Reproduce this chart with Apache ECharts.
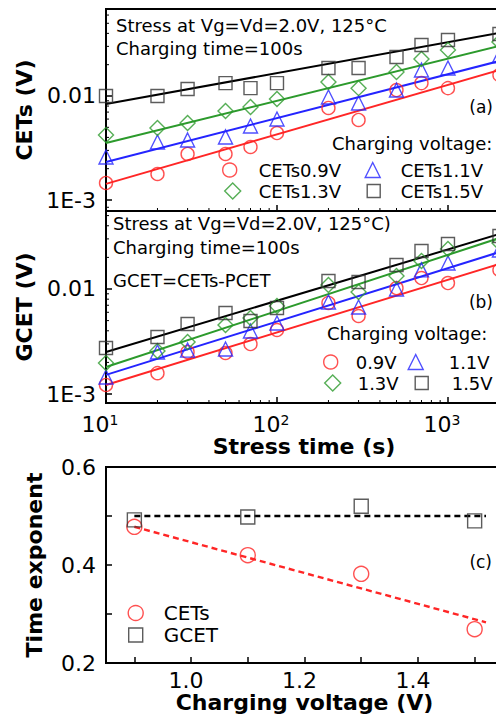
<!DOCTYPE html>
<html>
<head>
<meta charset="utf-8">
<script src="https://cdn.jsdelivr.net/npm/echarts@6/dist/echarts.min.js"></script>
<style>
html, body { margin: 0; padding: 0; background: #fff; }
#chart { width: 496px; height: 717px; }
</style>
</head>
<body>
<div id="chart"></div>
<script>
// stress time (s), shared by panels (a) and (b)
const stressTime = [10, 20, 30, 50, 70, 100, 200, 300, 500, 700, 1000, 2000];

// (a) CETs (V) per charging voltage
const cets09 = [0.00146, 0.00178, 0.00277, 0.00277, 0.00324, 0.0044, 0.00767, 0.00588, 0.0114, 0.0133, 0.0119, 0.0159];
const cets11 = [0.00259, 0.00361, 0.00378, 0.00404, 0.00515, 0.00601, 0.00978, 0.00857, 0.0114, 0.0178, 0.0186, 0.0243];
const cets13 = [0.00422, 0.00492, 0.0055, 0.00717, 0.00784, 0.00936, 0.01365, 0.0119, 0.017, 0.0227, 0.0277, 0.033];
const cets15 = [0.0100, 0.0100, 0.01167, 0.0133, 0.0119, 0.0133, 0.0186, 0.0186, 0.0237, 0.0309, 0.0345, 0.0395];

// (b) GCET (V)
const gcet09 = [0.00122, 0.00158, 0.00251, 0.00246, 0.00299, 0.00407, 0.00736, 0.00553, 0.0102, 0.0127, 0.0114, 0.0152];
const gcet11 = [0.00145, 0.00251, 0.00262, 0.00268, 0.00398, 0.00474, 0.00752, 0.00674, 0.0100, 0.0152, 0.0177, 0.0235];
const gcet13 = [0.00197, 0.00257, 0.00313, 0.00454, 0.0053, 0.0069, 0.0109, 0.00936, 0.0133, 0.0185, 0.024, 0.0274];
const gcet15 = [0.00274, 0.00349, 0.00464, 0.0059, 0.00495, 0.00659, 0.0119, 0.01166, 0.0169, 0.023, 0.0268, 0.032];

// power-law fit lines, end points at 10 s and 2000 s
const fitTime = [10, 2000];
const cetsFit09 = [0.00143, 0.0178];
const cetsFit11 = [0.00232, 0.0217];
const cetsFit13 = [0.00353, 0.0303];
const cetsFit15 = [0.00838, 0.0404];
const gcetFit09 = [0.00122, 0.0173];
const gcetFit11 = [0.00152, 0.0225];
const gcetFit13 = [0.00181, 0.0306];
const gcetFit15 = [0.00251, 0.0334];

// (c) time exponent vs charging voltage
const chargingVoltage = [0.9, 1.1, 1.3, 1.5];
const expCets = [0.478, 0.42, 0.382, 0.269];
const expGcet = [0.492, 0.498, 0.52, 0.49];
const fitVoltage = [0.9, 1.52];
const expCetsFit = [0.478, 0.283];
const expGcetFit = [0.5, 0.5];

// tick labels
const logTickValues = [0.001, 0.01];
const logTickLabels = ['1E-3', '0.01'];
const expTickLabels = [0.2, 0.4, 0.6];
const voltTickLabels = [1.0, 1.2, 1.4];
const minorTime = [20, 30, 40, 50, 60, 70, 80, 90, 200, 300, 400, 500, 600, 700, 800, 900, 2000];
const minorVolt = [0.002, 0.003, 0.004, 0.005, 0.006, 0.007, 0.008, 0.009, 0.02, 0.03, 0.04, 0.05, 0.06];

const FONT = 'DejaVu Sans';
const RED = '#ff2626', BLUE = '#2424ff', GREEN = '#2c9a2c', GREY = '#333333';

const pairs = (xs, ys) => xs.map((x, i) => [x, ys[i]]);

function scatter(name, xs, ys, symbol, size, color, gi) {
  return {
    type: 'scatter', name, xAxisIndex: gi, yAxisIndex: gi, data: pairs(xs, ys),
    symbol, symbolSize: size, z: 3,
    itemStyle: { color: 'transparent', borderColor: color, borderWidth: 1.4 }
  };
}
function fit(xs, ys, color, gi, dashed) {
  return {
    type: 'line', xAxisIndex: gi, yAxisIndex: gi, data: pairs(xs, ys), symbol: 'none', silent: true, z: 2,
    lineStyle: { color, width: dashed ? 2.4 : 2, type: dashed ? [6, 4] : 'solid' }
  };
}
// log minor ticks (2..9 x 10^n), drawn inward
function minorX(gi) {
  return {
    type: 'custom', xAxisIndex: gi, yAxisIndex: gi, silent: true, clip: false,
    data: minorTime.map((t) => [t, 0.005]),
    renderItem: (params, api) => {
      const cs = params.coordSys;
      const x = api.coord([api.value(0), 0.005])[0];
      const yb = cs.y + cs.height;
      return { type: 'line', shape: { x1: x, y1: yb, x2: x, y2: yb - 3 }, style: { stroke: '#000', lineWidth: 1 } };
    }
  };
}
function minorY(gi) {
  return {
    type: 'custom', xAxisIndex: gi, yAxisIndex: gi, silent: true, clip: false,
    data: minorVolt.map((v) => [100, v]),
    renderItem: (params, api) => {
      const cs = params.coordSys;
      const y = api.coord([100, api.value(1)])[1];
      return { type: 'line', shape: { x1: cs.x, y1: y, x2: cs.x + 3, y2: y }, style: { stroke: '#000', lineWidth: 1 } };
    }
  };
}

function logLabel(v) {
  const e = Math.log10(v), r = Math.round(e);
  if (Math.abs(e - r) > 1e-6) return '';
  const i = logTickValues.findIndex((t) => Math.round(Math.log10(t)) === r);
  return i >= 0 ? logTickLabels[i] : '';
}
function timeLabel(v) {
  const e = Math.log10(v), r = Math.round(e);
  if (Math.abs(e - r) > 1e-6) return '';
  return '{b|10}{s|' + r + '}';
}
const pick = (list) => (v) => list.some((t) => Math.abs(t - v) < 1e-6) ? v.toFixed(1) : '';

const axisLine = { lineStyle: { color: '#000', width: 2 } };
const tick = { inside: true, length: 6, lineStyle: { color: '#000', width: 1.5 } };
const labelStyle = { fontFamily: FONT, fontSize: 22, color: '#000' };
const nameStyle = { fontFamily: FONT, fontSize: 22, fontWeight: 'bold', color: '#000' };

// panels run past the right edge of the picture, as in the original crop
const grids = [
  { left: 106, top: 9, width: 396, height: 202 },
  { left: 106, top: 211, width: 396, height: 192 },
  { left: 106, top: 467, width: 397, height: 196 }
].map((g) => Object.assign(g, { show: true, borderColor: '#000', borderWidth: 2, containLabel: false, outerBoundsMode: 'none' }));

const timeAxis = (gi, labels) => ({
  type: 'log', gridIndex: gi, min: 10, max: 2070, axisLine, axisTick: tick, splitLine: { show: false },
  axisLabel: labels ? {
    formatter: timeLabel, margin: 10, padding: [0, 12, 0, 0],
    rich: { b: labelStyle, s: { fontFamily: FONT, fontSize: 14, color: '#000', verticalAlign: 'top', lineHeight: 14 } }
  } : { show: false },
  name: labels ? 'Stress time (s)' : '', nameLocation: 'middle', nameGap: 32, nameTextStyle: nameStyle
});
const vAxis = (gi, name, min, max) => ({
  type: 'log', gridIndex: gi, min, max, axisLine, axisTick: tick, splitLine: { show: false },
  axisLabel: Object.assign({ formatter: logLabel, margin: 10 }, labelStyle),
  name, nameLocation: 'middle', nameRotate: 90, nameGap: 68, nameTextStyle: nameStyle
});

const xAxis = [
  timeAxis(0, false),
  timeAxis(1, true),
  {
    type: 'value', gridIndex: 2, min: 0.85, max: 1.55, minInterval: 0.1, maxInterval: 0.1,
    axisLine, axisTick: tick, splitLine: { show: false },
    axisLabel: Object.assign({ formatter: pick(voltTickLabels), margin: 6, padding: [0, 10, 0, 0] }, labelStyle),
    name: 'Charging voltage (V)', nameLocation: 'middle', nameGap: 27, nameTextStyle: nameStyle
  }
];
const yAxis = [
  vAxis(0, 'CETs (V)', 0.000784, 0.0686),
  vAxis(1, 'GCET (V)', 0.000821, 0.0553),
  {
    type: 'value', gridIndex: 2, min: 0.2, max: 0.6, interval: 0.1,
    axisLine, axisTick: tick, splitLine: { show: false },
    axisLabel: Object.assign({ formatter: pick(expTickLabels), margin: 10, padding: [10, 0, 0, 0] }, labelStyle),
    name: 'Time exponent', nameLocation: 'middle', nameRotate: 90, nameGap: 61, nameTextStyle: nameStyle
  }
];

const series = [
  fit(fitTime, cetsFit09, RED, 0), fit(fitTime, cetsFit11, BLUE, 0),
  fit(fitTime, cetsFit13, GREEN, 0), fit(fitTime, cetsFit15, '#000', 0),
  scatter('CETs0.9V', stressTime, cets09, 'circle', 13, RED, 0),
  scatter('CETs1.1V', stressTime, cets11, 'triangle', 14, BLUE, 0),
  scatter('CETs1.3V', stressTime, cets13, 'diamond', 15, GREEN, 0),
  scatter('CETs1.5V', stressTime, cets15, 'rect', 13, GREY, 0),
  fit(fitTime, gcetFit09, RED, 1), fit(fitTime, gcetFit11, BLUE, 1),
  fit(fitTime, gcetFit13, GREEN, 1), fit(fitTime, gcetFit15, '#000', 1),
  scatter('0.9V', stressTime, gcet09, 'circle', 13, RED, 1),
  scatter('1.1V', stressTime, gcet11, 'triangle', 14, BLUE, 1),
  scatter('1.3V', stressTime, gcet13, 'diamond', 15, GREEN, 1),
  scatter('1.5V', stressTime, gcet15, 'rect', 13, GREY, 1),
  fit(fitVoltage, expGcetFit, '#000', 2, true),
  fit(fitVoltage, expCetsFit, RED, 2, true),
  scatter('CETs', chargingVoltage, expCets, 'circle', 15, RED, 2),
  scatter('GCET', chargingVoltage, expGcet, 'rect', 14, GREY, 2),
  minorX(0), minorX(1), minorY(0), minorY(1)
];

// one legend per entry so each sits where the original puts it
function leg(name, cx, cy, icon, color, size, textX, fs) {
  const gap = textX - (cx + size / 2) - 5;
  return {
    data: [{ name, icon, itemStyle: { color: 'transparent', borderColor: color, borderWidth: 1.4 } }],
    left: cx - size / 2, top: cy - 11, itemWidth: size, itemHeight: size, padding: 0, selectedMode: false,
    formatter: '{g|}{name}',
    textStyle: { fontFamily: FONT, fontSize: fs, color: '#000', lineHeight: 22, rich: { g: { width: gap } } }
  };
}
const legend = [
  leg('CETs0.9V', 229, 170, 'circle', RED, 14, 258, 18),
  leg('CETs1.1V', 372, 170, 'triangle', BLUE, 15, 400, 18),
  leg('CETs1.3V', 232, 191, 'diamond', GREEN, 16, 258, 18),
  leg('CETs1.5V', 373, 191, 'rect', GREY, 13, 400, 18),
  leg('0.9V', 330, 362, 'circle', RED, 14, 355, 18),
  leg('1.1V', 415, 362, 'triangle', BLUE, 15, 448, 18),
  leg('1.3V', 332, 383, 'diamond', GREEN, 16, 357, 18),
  leg('1.5V', 421, 383, 'rect', GREY, 13, 451, 18),
  leg('CETs', 135, 613, 'circle', RED, 15, 163, 20),
  leg('GCET', 135, 635, 'rect', GREY, 14, 163, 20)
];

const txt = (text, x, y, size, align) => ({
  type: 'text', x, y, z: 10,
  style: { text, fontFamily: FONT, fontSize: size || 18, fill: '#000', align: align || 'left', verticalAlign: 'middle' }
});
const graphic = [
  txt('Stress at Vg=Vd=2.0V, 125\u00b0C', 116, 25),
  txt('Charging time=100s', 116, 48),
  txt('(a)', 493, 107, 17, 'right'),
  txt('Charging voltage:', 332, 143),
  txt('Stress at Vg=Vd=2.0V, 125\u00b0C)', 113, 223),
  txt('Charging time=100s', 113, 247),
  txt('GCET=CETs-PCET', 113, 280),
  txt('(b)', 493, 302, 17, 'right'),
  txt('Charging voltage:', 327, 333),
  txt('(c)', 492, 562, 17, 'right')
];

const chart = echarts.init(document.getElementById('chart'), null, { renderer: 'svg' });
chart.setOption({
  animation: false,
  backgroundColor: '#fff',
  textStyle: { fontFamily: FONT },
  grid: grids, xAxis, yAxis, series, legend, graphic
});
</script>
</body>
</html>
